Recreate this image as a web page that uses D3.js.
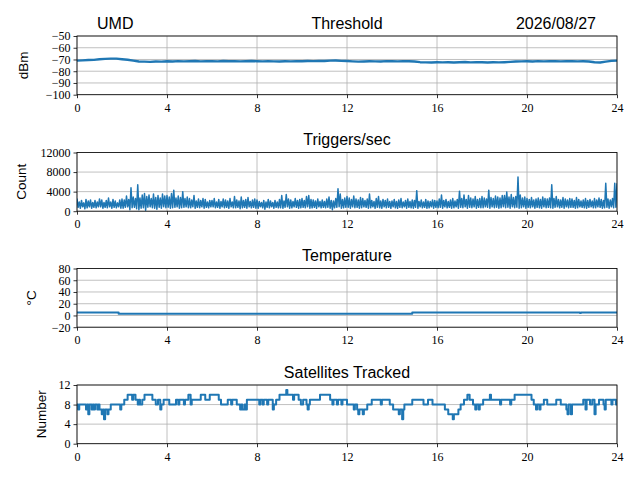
<!DOCTYPE html>
<html>
<head>
<meta charset="utf-8">
<script src="https://cdn.jsdelivr.net/npm/d3@7"></script>
<style>
  body { margin: 0; background: #fff; }
</style>
</head>
<body>
<svg id="chart" width="640" height="480"></svg>
<script>
// x ticks (hours of day)
const hourTicks = [0, 4, 8, 12, 16, 20, 24];

// Threshold (dBm), one sample every 15 minutes
const thresholdVals = [
  -71.0, -70.8, -70.5, -70.3,
  -69.8, -69.5, -69.3, -69.3,
  -69.8, -70.2, -71.0, -71.7,
  -71.8, -72.0, -71.7, -71.8,
  -71.5, -71.7, -71.4, -71.6,
  -71.5, -71.3, -71.6, -71.4,
  -71.5, -71.6, -71.3, -71.5,
  -71.4, -71.6, -71.5, -71.3,
  -71.5, -71.6, -71.4, -71.6,
  -71.7, -71.5, -71.6, -71.4,
  -71.5, -71.3, -71.4, -71.2,
  -71.3, -71.0, -70.9, -71.2,
  -71.3, -71.6, -71.8, -71.7,
  -71.5, -71.6, -71.7, -71.4,
  -71.5, -71.6, -71.4, -71.5,
  -71.7, -72.3, -72.5, -72.6,
  -72.4, -72.5, -72.3, -72.6,
  -72.4, -72.2, -72.5, -72.3,
  -72.4, -72.6, -72.3, -72.5,
  -72.3, -72.0, -71.7, -71.6,
  -71.5, -71.7, -71.4, -71.6,
  -71.5, -71.4, -71.6, -71.5,
  -71.4, -71.6, -71.5, -71.7,
  -72.4, -72.6, -71.8, -71.2,
  -71.0
];

// Triggers per second: peak of each 6-minute slot (starting on the slot)
const triggerHigh = [
  2600, 1900, 2200, 1700, 2400, 2100, 2300, 1800, 2200, 1900,
  2500, 2300, 1800, 2200, 2700, 1900, 2400, 2100, 1700, 2300,
  2500, 2300, 3100, 2400, 4800, 2900, 2600, 5400, 2700, 3300,
  3600, 3000, 3300, 2600, 3500, 2800, 3200, 2700, 3500, 3100,
  3200, 2900, 3600, 4300, 2700, 3100, 2800, 4000, 2600, 2900,
  2600, 2300, 3200, 2100, 2500, 2200, 2600, 2400, 1900, 2200,
  2200, 2600, 1900, 2400, 2000, 2500, 2300, 2100, 2600, 1900,
  3000, 2300, 2100, 2900, 2200, 2400, 2800, 2000, 2300, 2500,
  2300, 2000, 1800, 2200, 1900, 2400, 2100, 1800, 2200, 1900,
  2400, 3200, 2100, 3400, 2500, 2300, 2000, 2600, 2200, 2400,
  2600, 2200, 3000, 3200, 2400, 2300, 2100, 2500, 2000, 2300,
  2000, 2500, 2900, 2200, 2100, 2600, 4600, 3500, 2400, 2700,
  3000, 2700, 2400, 3100, 2500, 2300, 2800, 2600, 2200, 2500,
  3500, 2200, 2000, 2600, 3000, 2100, 2400, 2200, 2500, 2000,
  2100, 2400, 2000, 2300, 2600, 1900, 2200, 2500, 2000, 2300,
  2200, 4200, 2000, 2300, 1900, 2400, 2100, 2000, 2300, 2200,
  2100, 2500, 3300, 2200, 2400, 2000, 2300, 2600, 2100, 2400,
  4100, 2600, 3300, 2400, 3200, 2700, 2500, 3000, 2400, 2600,
  3000, 2700, 2500, 4300, 2800, 2600, 3100, 2900, 2700, 3200,
  3200, 3900, 2900, 3400, 2800, 3000, 7000, 3300, 2700, 2900,
  2600, 2400, 2800, 2300, 2500, 2700, 2400, 2900, 2600, 2500,
  2700, 5400, 2600, 3000, 2400, 2300, 2800, 2500, 2300, 2600,
  2500, 2200, 2800, 2400, 2100, 2300, 2600, 2200, 2400, 2100,
  2600, 2300, 2700, 2400, 2200, 5700, 2500, 2300, 2600, 5700,
  5700
];
// Triggers per second: trough in the middle of each 6-minute slot
const triggerLow = [
  800, 600, 900, 500, 700, 900, 600, 800, 700, 900,
  900, 600, 800, 700, 900, 600, 800, 700, 900, 600,
  600, 800, 900, 300, 700, 800, 500, 300, 600, 700,
  200, 800, 900, 700, 600, 400, 800, 600, 900, 700,
  800, 600, 700, 800, 900, 600, 700, 800, 900, 700,
  700, 900, 600, 800, 700, 900, 600, 800, 700, 900,
  900, 700, 800, 600, 900, 700, 800, 600, 900, 700,
  700, 800, 500, 700, 800, 600, 900, 700, 800, 600,
  600, 900, 700, 400, 800, 700, 900, 600, 800, 700,
  700, 600, 800, 900, 600, 700, 900, 800, 600, 700,
  800, 700, 900, 600, 700, 800, 600, 900, 700, 800,
  700, 800, 600, 300, 700, 800, 900, 600, 700, 800,
  800, 600, 900, 700, 800, 600, 700, 900, 800, 600,
  700, 900, 600, 800, 700, 600, 900, 700, 800, 600,
  900, 700, 600, 800, 700, 900, 600, 800, 700, 600,
  800, 600, 900, 700, 800, 600, 700, 900, 600, 800,
  700, 800, 600, 900, 700, 800, 600, 700, 900, 600,
  800, 700, 900, 600, 800, 700, 900, 600, 800, 700,
  700, 900, 800, 600, 900, 700, 800, 600, 700, 900,
  700, 800, 600, 900, 700, 800, 600, 700, 900, 600,
  800, 700, 900, 600, 800, 700, 600, 900, 700, 800,
  700, 600, 800, 900, 700, 800, 600, 900, 700, 800,
  800, 600, 700, 900, 800, 700, 600, 800, 900, 700,
  700, 900, 800, 600, 700, 800, 600, 900, 700, 800
];

// Temperature (deg C), step changes
const tempTimes = [0, 1.85, 14.9, 22.35, 22.4, 24];
const tempVals  = [5, 3, 5, 4, 5, 5];

// Satellites tracked, step changes
const satTimes = [
  0, 0.05, 0.1, 0.4, 0.45, 0.5, 0.55, 0.65, 0.7, 0.75, 0.8, 0.9, 0.95,
  1.0, 1.1, 1.15, 1.2, 1.25, 1.35, 1.4, 1.5, 1.92, 1.97,
  2.1, 2.25, 2.45, 2.5, 2.6, 2.7, 2.75, 2.8, 2.9,
  3.0, 3.35, 3.5, 3.6, 3.7, 3.75, 3.85,
  4.1, 4.4, 4.5, 4.55, 4.75, 4.8, 4.95, 5.05, 5.1,
  5.5, 5.7, 5.9, 6.3, 6.4,
  6.7, 6.85, 6.9, 7.1, 7.25, 7.3, 7.35, 7.45, 7.5, 7.55,
  8.1, 8.15, 8.25, 8.3, 8.45, 8.5, 8.7, 8.75, 8.85,
  9.0, 9.3, 9.35, 9.6, 9.65, 9.85, 9.95, 10.05, 10.2, 10.25, 10.3, 10.35,
  10.8, 11.25, 11.35, 11.4, 11.55, 11.6, 11.75, 11.8,
  12.0, 12.3, 12.35, 12.45, 12.5, 12.55, 12.7, 12.75, 12.9, 13.1,
  13.5, 13.55, 13.9, 14.05, 14.3, 14.35, 14.45, 14.5, 14.55,
  14.9, 15.4, 15.6, 15.8,
  16.35, 16.5, 16.7, 16.75, 16.95, 17.05, 17.2, 17.35, 17.45, 17.6, 17.7, 17.75, 17.85, 17.9,
  18.05, 18.35, 18.4, 18.8, 18.85, 19.25, 19.3,
  19.45, 20.2, 20.3, 20.4, 20.45, 20.55, 20.6,
  20.75, 20.9, 21.3, 21.5, 21.75, 21.8, 21.85, 21.95, 22.0,
  22.5, 22.6, 22.65, 22.8, 22.9, 23.0, 23.05, 23.2, 23.4, 23.45, 23.5, 23.75, 23.8, 23.95,
  24
];
const satVals = [
  8, 7, 8, 7, 8, 6, 8, 7, 8, 7, 8, 7, 8,
  7, 6, 7, 5, 7, 6, 7, 8, 7, 8,
  9, 10, 9, 10, 9, 8, 9, 8, 9,
  10, 9, 8, 9, 7, 8, 9,
  8, 9, 8, 9, 8, 9, 10, 8, 9,
  10, 9, 10, 9, 8,
  9, 8, 9, 8, 7, 8, 7, 8, 7, 9,
  8, 9, 8, 9, 8, 9, 7, 8, 9,
  10, 11, 10, 9, 10, 9, 8, 9, 8, 7, 8, 9,
  10, 9, 8, 9, 8, 9, 8, 9,
  8, 7, 8, 7, 6, 7, 6, 7, 8, 9,
  8, 9, 8, 7, 6, 7, 5, 7, 8,
  9, 8, 9, 8,
  7, 6, 5, 6, 7, 8, 9, 10, 9, 8, 7, 8, 7, 8,
  9, 10, 9, 8, 9, 8, 9,
  10, 9, 8, 7, 8, 7, 8,
  9, 8, 9, 8, 7, 6, 8, 6, 8,
  9, 7, 9, 8, 9, 6, 8, 9, 8, 7, 9, 8, 9, 8,
  8
];

// interleave peaks and troughs into one time series
const triggerPts = [];
triggerHigh.forEach((v, i) => {
  triggerPts.push([i / 10, v]);
  if (i < triggerLow.length) triggerPts.push([i / 10 + 0.05, triggerLow[i]]);
});

const svg = d3.select("#chart");
const left = 77, right = 617, plotH = 58.7;
const x = d3.scaleLinear().domain([0, 24]).range([left, right]);
const serif = "'Liberation Serif', 'DejaVu Serif', serif";
const sans = "'Liberation Sans', 'DejaVu Sans', sans-serif";
const blue = "#1f77b4";

const panels = [
  { top: 36, title: "Threshold", ylabel: "dBm", labelX: 23, domain: [-100, -50],
    yTicks: [-100, -90, -80, -70, -60, -50], width: 2.4, step: false,
    pts: thresholdVals.map((v, i) => [i / 4, v]) },
  { top: 152.5, title: "Triggers/sec", ylabel: "Count", labelX: 21, domain: [0, 12000],
    yTicks: [0, 4000, 8000, 12000], width: 1.5, step: false,
    pts: triggerPts },
  { top: 268.5, title: "Temperature", ylabel: "\u00b0C", labelX: 31, domain: [-20, 80],
    yTicks: [-20, 0, 20, 40, 60, 80], width: 2, step: true,
    pts: tempTimes.map((t, i) => [t, tempVals[i]]) },
  { top: 385, title: "Satellites Tracked", ylabel: "Number", labelX: 41, domain: [0, 12],
    yTicks: [0, 4, 8, 12], width: 2, step: true,
    pts: satTimes.map((t, i) => [t, satVals[i]]) }
];

panels.forEach((p, k) => {
  const y = d3.scaleLinear().domain(p.domain).range([plotH, 0]);
  const g = svg.append("g").attr("transform", `translate(0,${p.top})`);

  // grid
  g.append("g").selectAll("line").data(hourTicks).join("line")
    .attr("x1", d => x(d)).attr("x2", d => x(d))
    .attr("y1", 0).attr("y2", plotH)
    .attr("stroke", "#b0b0b0").attr("stroke-width", 0.8);
  g.append("g").selectAll("line").data(p.yTicks).join("line")
    .attr("x1", left).attr("x2", right)
    .attr("y1", d => y(d)).attr("y2", d => y(d))
    .attr("stroke", "#b0b0b0").attr("stroke-width", 0.8);

  // data line, clipped to the axes box
  g.append("clipPath").attr("id", "clip" + k)
    .append("rect").attr("x", left).attr("y", 0)
    .attr("width", right - left).attr("height", plotH);
  const line = d3.line()
    .x(d => x(d[0])).y(d => y(d[1]))
    .curve(p.step ? d3.curveStepAfter : d3.curveLinear);
  g.append("path").datum(p.pts)
    .attr("clip-path", `url(#clip${k})`)
    .attr("d", line)
    .attr("fill", "none")
    .attr("stroke", blue)
    .attr("stroke-width", p.width)
    .attr("stroke-linejoin", "round");

  // axes
  const xa = g.append("g").attr("transform", `translate(0,${plotH})`)
    .call(d3.axisBottom(x).tickValues(hourTicks).tickSize(3.5).tickPadding(5)
      .tickFormat(d3.format("d")));
  const ya = g.append("g").attr("transform", `translate(${left},0)`)
    .call(d3.axisLeft(y).tickValues(p.yTicks).tickSize(3.5).tickPadding(3)
      .tickFormat(d3.format("d")));
  [xa, ya].forEach(a => {
    a.select(".domain").remove();
    a.selectAll("line").attr("stroke", "#000").attr("stroke-width", 0.8);
    a.selectAll("text").attr("font-family", serif).attr("font-size", 12).attr("fill", "#000");
  });

  // spines
  g.append("rect").attr("x", left).attr("y", 0)
    .attr("width", right - left).attr("height", plotH)
    .attr("fill", "none").attr("stroke", "#000").attr("stroke-width", 0.8);

  // title
  g.append("text").attr("x", (left + right) / 2).attr("y", -7.5)
    .attr("text-anchor", "middle").attr("font-family", sans).attr("font-size", 16)
    .text(p.title);

  // y label
  g.append("text")
    .attr("transform", `translate(${p.labelX},${plotH / 2}) rotate(-90)`)
    .attr("text-anchor", "middle").attr("dominant-baseline", "central")
    .attr("font-family", sans).attr("font-size", 13.5)
    .text(p.ylabel);
});

svg.append("text").attr("x", 97).attr("y", 28.5)
  .attr("font-family", sans).attr("font-size", 16).text("UMD");
svg.append("text").attr("x", 596).attr("y", 28.5).attr("text-anchor", "end")
  .attr("font-family", sans).attr("font-size", 16).text("2026/08/27");
</script>
</body>
</html>
